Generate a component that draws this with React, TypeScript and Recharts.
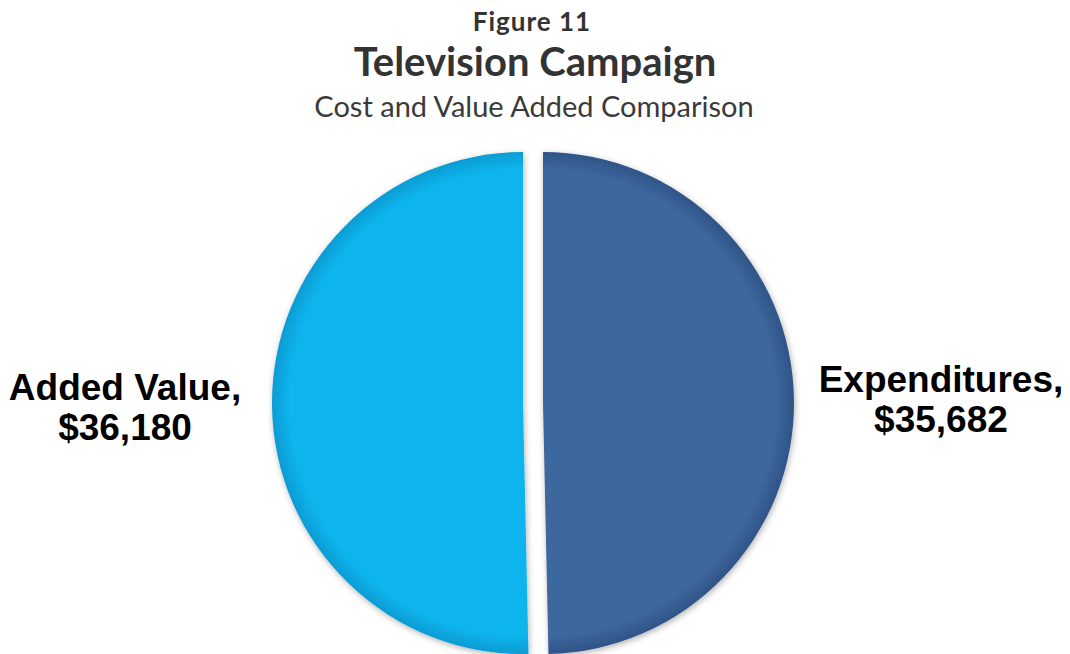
import { PieChart, Pie, Cell } from "recharts";

// Figure 11 – Television Campaign: cost vs value added
const sliceNames = ["Expenditures", "Added Value"];
const sliceValues = [35682, 36180];
const sliceColors = ["#3D679E", "#0FB4EE"];
const sliceRims = ["#2F5487", "#0A9BD3"];

const data = sliceNames.map((name, i) => ({ name, value: sliceValues[i] }));

const W = 1070;
const H = 654;
const CX = 533;
const CY = 403;
const R = 251;
const EXPLODE = 10;
const RAD = Math.PI / 180;

const money = (v: number) => "$" + v.toLocaleString("en-US");

function makeLabel(only: string) {
  return (props: any) => {
    const name = props.payload?.name ?? props.name;
    if (name !== only) return null;
    const dist = props.outerRadius + 147;
    const x = props.cx + dist * Math.cos(-props.midAngle * RAD);
    const y = props.cy + dist * Math.sin(-props.midAngle * RAD);
    return (
      <text
        x={x}
        y={y}
        textAnchor="middle"
        fill="#000"
        fontFamily="'Liberation Sans', Arial, sans-serif"
        fontWeight="bold"
        fontSize={37}
      >
        <tspan x={x} y={y - 7}>{name},</tspan>
        <tspan x={x} y={y + 33}>{money(props.value)}</tspan>
      </text>
    );
  };
}

// each pie paints one slice only, shifted out from the centre (exploded look)
function SlicePie({ show, dx }: { show: string; dx: number }) {
  return (
    <Pie
      data={data}
      dataKey="value"
      nameKey="name"
      cx={CX + dx}
      cy={CY}
      outerRadius={R}
      startAngle={90}
      endAngle={-270}
      stroke="none"
      labelLine={false}
      label={makeLabel(show)}
      isAnimationActive={false}
    >
      {data.map((d, i) => (
        <Cell
          key={d.name}
          fill={d.name === show ? `url(#grad-${i})` : "none"}
          filter={d.name === show ? "url(#pieShadow)" : undefined}
        />
      ))}
    </Pie>
  );
}

export default function App() {
  return (
    <div style={{ position: "absolute", left: 0, top: 0, width: W, height: H, background: "#fff" }}>
      <PieChart width={W} height={H} margin={{ top: 0, right: 0, bottom: 0, left: 0 }}>
        <defs>
          <filter id="pieShadow" x="-20%" y="-20%" width="140%" height="140%">
            <feDropShadow dx="1" dy="2" stdDeviation="3" floodColor="#000" floodOpacity="0.3" />
          </filter>
          {sliceColors.map((c, i) => (
            <radialGradient
              key={c}
              id={`grad-${i}`}
              gradientUnits="userSpaceOnUse"
              cx={CX + (i === 0 ? EXPLODE : -EXPLODE)}
              cy={CY}
              r={R}
            >
              <stop offset="0%" stopColor={c} />
              <stop offset="93%" stopColor={c} />
              <stop offset="100%" stopColor={sliceRims[i]} />
            </radialGradient>
          ))}
        </defs>
        <SlicePie show="Expenditures" dx={EXPLODE} />
        <SlicePie show="Added Value" dx={-EXPLODE} />
      </PieChart>
      <svg width={W} height={140} style={{ position: "absolute", left: 0, top: 0 }}>
        <text x={532} y={31} textAnchor="middle" fill="#333" fontFamily="Lato, sans-serif" fontWeight={700} fontSize={26} letterSpacing={1}>
          Figure 11
        </text>
        <text x={535} y={76} textAnchor="middle" fill="#333" fontFamily="Lato, sans-serif" fontWeight={700} fontSize={40}>
          Television Campaign
        </text>
        <text x={534} y={117} textAnchor="middle" fill="#3a3a3a" fontFamily="Lato, sans-serif" fontWeight={400} fontSize={29}>
          Cost and Value Added Comparison
        </text>
      </svg>
    </div>
  );
}
